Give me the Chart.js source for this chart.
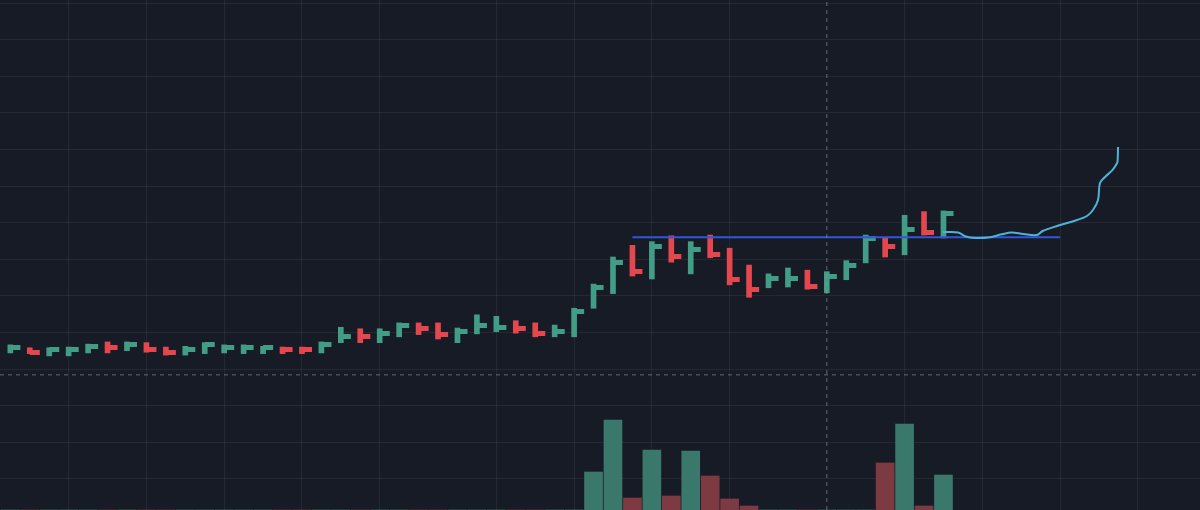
<!DOCTYPE html>
<html>
<head>
<meta charset="utf-8">
<script src="https://cdn.jsdelivr.net/npm/chart.js@4.4.1/dist/chart.umd.min.js"></script>
<style>
html,body{margin:0;padding:0;background:#171b26;overflow:hidden}
canvas{display:block;background:#171b26}
</style>
</head>
<body>
<canvas id="chart" width="1200" height="510"></canvas>
<script>
// HLC bars, index 0 is the half hidden one on the left edge
let highs=[2.80,2.83,2.79,2.79,2.80,2.84,2.87,2.87,2.86,2.80,
2.81,2.86,2.83,2.83,2.81,2.80,2.80,2.87,3.07,3.05,
3.05,3.13,3.13,3.13,3.06,3.24,3.22,3.16,3.13,3.10,
3.33,3.66,4.03,4.19,4.24,4.32,4.24,4.33,4.15,3.92,
3.80,3.88,3.85,3.83,3.98,4.33,4.30,4.60,4.65,4.66];
let lows=[2.72,2.72,2.71,2.68,2.68,2.72,2.72,2.75,2.73,2.69,
2.69,2.71,2.72,2.71,2.71,2.71,2.71,2.72,2.86,2.86,
2.86,2.94,2.97,2.91,2.86,2.98,3.01,2.99,2.94,2.94,
2.94,3.33,3.53,3.77,3.73,3.96,3.80,4.02,3.65,3.48,
3.61,3.62,3.59,3.54,3.72,3.95,4.03,4.06,4.33,4.29];
let closes=[2.75,2.80,2.73,2.76,2.77,2.81,2.80,2.83,2.77,2.73,
2.76,2.83,2.80,2.79,2.79,2.76,2.76,2.84,2.95,2.95,
2.98,3.09,3.05,2.97,3.01,3.10,3.07,3.06,2.99,3.01,
3.29,3.62,3.96,3.83,4.18,4.04,4.13,4.07,3.72,3.59,
3.74,3.73,3.63,3.77,3.91,4.28,4.17,4.40,4.37,4.62];
let rising=[0,1,0,1,1,1,0,1,0,0,
1,1,1,1,1,0,0,1,1,0,
1,1,0,0,1,1,1,0,0,1,
1,1,1,0,1,0,1,0,0,0,
1,1,0,1,1,1,0,1,0,1];
// volume, 0 where it is too small to show
let volumes=[0,0,0,0,0,0,0,0,0,0,
0,0,0,0,0,0,0,0,0,0,
0,0,0,0,0,0,0,0,0,0,
0,3.8,9.0,1.2,6.0,1.4,5.9,3.4,1.1,0.4,
0,0,0,0,0,0,4.7,8.6,0.4,3.5];

// horizontal level drawn on the chart
let levelPrice=4.30;
let levelFrom=33;
let levelTo=55;

// freehand brush after the last bar
let brushX=[48.98,49.75,50.15,50.6,51.3,52.0,52.5,53.1,53.8,54.1,54.84,55.87,56.38,56.69,56.95,57.05,57.31,57.7,57.93,57.96,57.98];
let brushY=[4.37,4.365,4.31,4.29,4.295,4.34,4.365,4.345,4.33,4.385,4.454,4.536,4.59,4.672,4.809,5.041,5.123,5.22,5.314,5.355,5.533];

// crosshair
let crossX=43;
let crossY=2.42;

// grid ticks
let timeTicks=[4,8,12,16,20,26,30,34,38,47,51,55,59];
let priceTicks=[1.0,1.5,2.0,2.5,3.0,3.5,4.0,4.5,5.0,5.5,6.0,6.5,7.0,7.5];

const UP="#419d86",DOWN="#e5474e";
const VOL_UP="#3a786c",VOL_DOWN="#7d3a42";
const XMIN=0.468,XMAX=62.196,YMIN=0.574,YMAX=7.541;

function makeTick(color){
let c=document.createElement("canvas");
c.width=22;c.height=5;
let g=c.getContext("2d");
g.fillStyle=color;
g.fillRect(11,0,10,5);
return c;
}
let tickUp=makeTick(UP),tickDown=makeTick(DOWN);

let stems=highs.map((h,i)=>({x:i,y:[lows[i],h]}));
let ticks=closes.map((c,i)=>({x:i,y:c}));
let vols=volumes.map((v,i)=>({x:i,y:v}));
let brush=brushX.map((x,i)=>({x:x,y:brushY[i]}));

const ctx=document.getElementById("chart").getContext("2d");
new Chart(ctx,{
type:"bar",
data:{datasets:[
{label:"Volume",data:vols,yAxisID:"y2",grouped:false,barThickness:18,
backgroundColor:c=>rising[c.dataIndex]?VOL_UP:VOL_DOWN,borderWidth:0,order:5},
{label:"Range",data:stems,grouped:false,barThickness:5,
backgroundColor:c=>rising[c.dataIndex]?UP:DOWN,borderWidth:0,borderSkipped:false,order:4},
{type:"line",label:"Close",data:ticks,showLine:false,pointRadius:3,
pointStyle:c=>rising[c.dataIndex]?tickUp:tickDown,order:3},
{type:"line",label:"Level",data:[{x:levelFrom,y:levelPrice},{x:levelTo,y:levelPrice}],
borderColor:"#3256d8",borderWidth:2,pointRadius:0,order:2},
{type:"line",label:"Brush",data:brush,borderColor:"#4fb2d8",borderWidth:2,
pointRadius:0,tension:0.35,order:1},
{type:"line",label:"CrossV",data:[{x:crossX,y:YMIN},{x:crossX,y:YMAX}],
borderColor:"rgba(150,155,170,0.6)",borderWidth:1,borderDash:[4,4],pointRadius:0,order:0},
{type:"line",label:"CrossH",data:[{x:XMIN,y:crossY},{x:XMAX,y:crossY}],
borderColor:"rgba(150,155,170,0.6)",borderWidth:1,borderDash:[4,4],pointRadius:0,order:0}
]},
options:{
responsive:false,
animation:false,
layout:{padding:0,autoPadding:false},
plugins:{legend:{display:false},tooltip:{enabled:false}},
scales:{
x:{type:"linear",min:XMIN,max:XMAX,offset:false,
afterBuildTicks:s=>{s.ticks=timeTicks.map(v=>({value:v}));},
ticks:{display:false},border:{display:false},
grid:{color:"rgba(255,255,255,0.06)",drawTicks:false,offset:false}},
y:{type:"linear",min:YMIN,max:YMAX,
afterBuildTicks:s=>{s.ticks=priceTicks.map(v=>({value:v}));},
ticks:{display:false},border:{display:false},
grid:{color:"rgba(255,255,255,0.06)",drawTicks:false}},
y2:{type:"linear",min:0,max:51,display:false}
}
}
});
</script>
</body>
</html>
